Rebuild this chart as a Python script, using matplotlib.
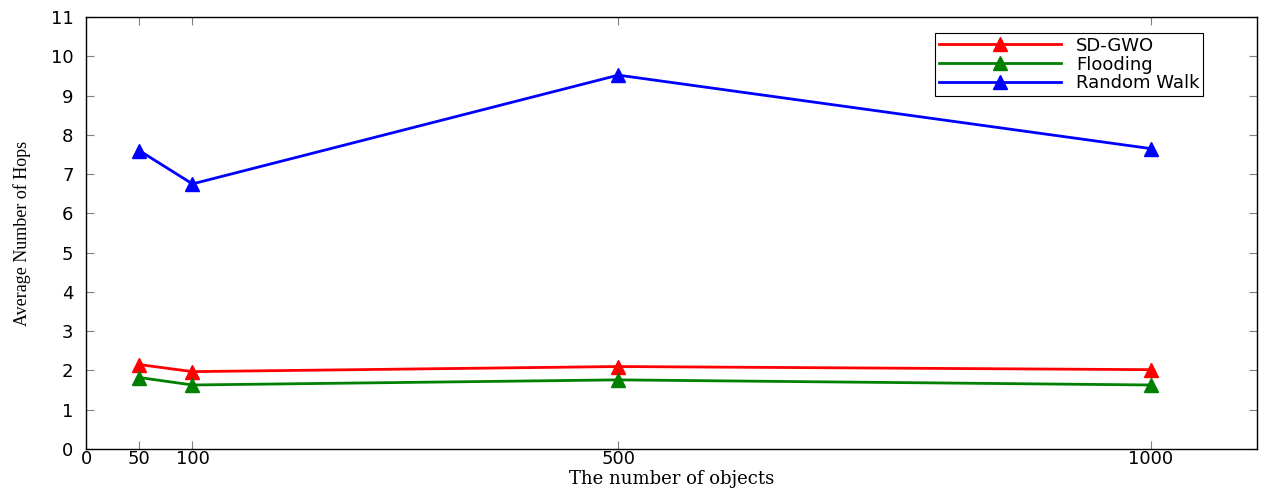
import numpy as np
import matplotlib.pyplot as plt

objects = [50, 100, 500, 1000]
sd_gwo = [2.15, 1.97, 2.10, 2.02]
flooding = [1.82, 1.63, 1.76, 1.63]
random_walk = [7.60, 6.75, 9.52, 7.65]
xticks = [0, 50, 100, 500, 1000]
yticks = list(range(0, 12))

fig = plt.figure(figsize=(12.66, 4.9), dpi=100)
ax = fig.add_axes([86/1266, 1 - 449/490, (1257-86)/1266, (449-17)/490])

ax.plot(objects, sd_gwo, color='red', lw=2, marker='^', ms=10, label='SD-GWO')
ax.plot(objects, flooding, color='green', lw=2, marker='^', ms=10, label='Flooding')
ax.plot(objects, random_walk, color='blue', lw=2, marker='^', ms=10, label='Random Walk')

ax.set_xlim(0, 1100)
ax.set_ylim(0, 11)
ax.set_xticks(xticks)
ax.set_yticks(yticks)
ax.tick_params(direction='in', top=True, right=True, length=6, color='gray',
               labelsize=13)
ax.tick_params(axis='y', pad=9)
ax.tick_params(axis='x', pad=1)
for lab in ax.get_xticklabels() + ax.get_yticklabels():
    lab.set_family('DejaVu Sans')
for s in ax.spines.values():
    s.set_linewidth(1.0)

ax.set_xlabel('The number of objects', family='DejaVu Serif', fontsize=13)
ax.xaxis.set_label_coords(0.5, -0.049)
ax.set_ylabel('Average Number of Hops', family='Liberation Serif', fontsize=13)
ax.yaxis.set_label_coords(-0.047, 0.5)

# legend box roughly 926..1202 px wide in the original
leg = ax.legend(loc='upper right', bbox_to_anchor=(1203/1266, 1 - 33/490),
                bbox_transform=fig.transFigure, fancybox=False, framealpha=1,
                edgecolor='black', prop={'family': 'DejaVu Sans', 'size': 13},
                handlelength=6.8, handletextpad=0.8, borderpad=0.2,
                labelspacing=0.05, borderaxespad=0)
leg.get_frame().set_linewidth(0.8)

fig.savefig('out.png', dpi=100)
